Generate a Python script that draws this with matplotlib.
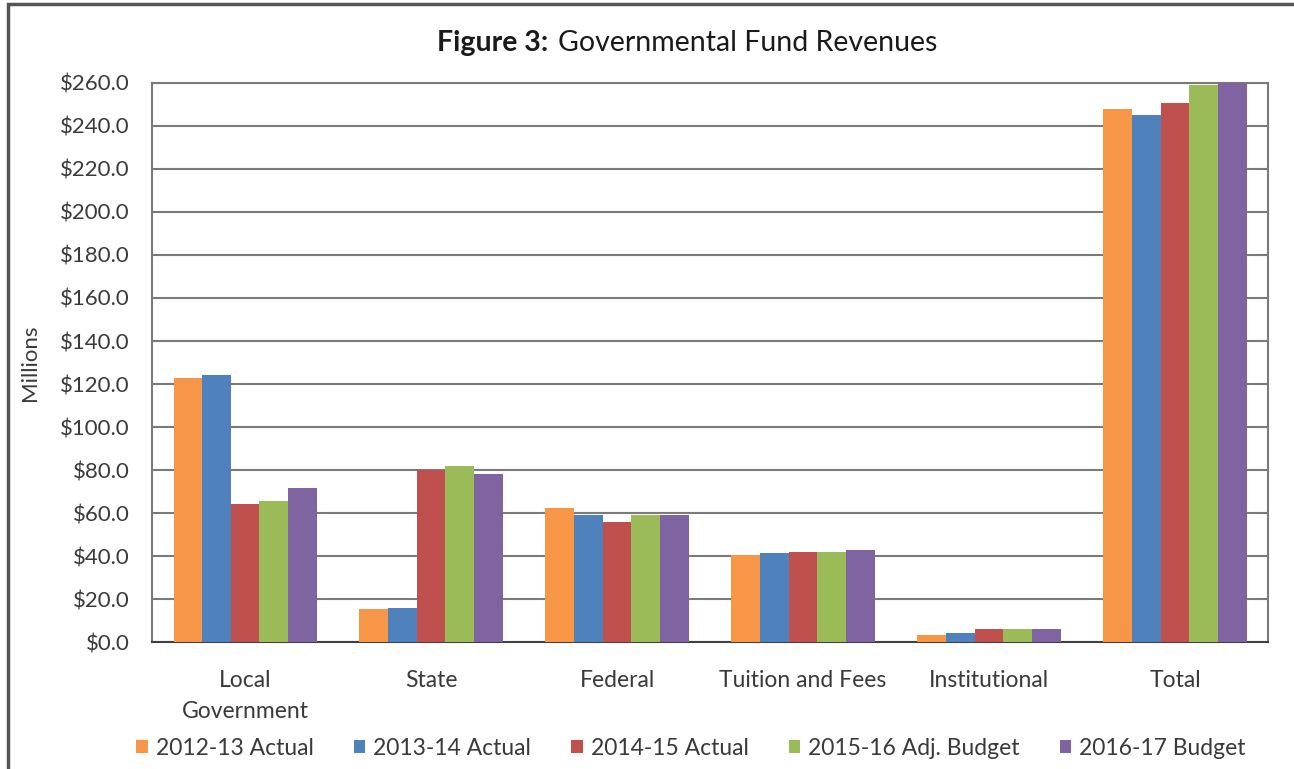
import matplotlib.pyplot as plt
import matplotlib.patches as patches
import numpy as np

plt.rcParams['font.family'] = ['Lato', 'DejaVu Sans']

# Revenue categories and fiscal-year series (millions of dollars)
categories = ['Local\nGovernment', 'State', 'Federal', 'Tuition and Fees', 'Institutional', 'Total']
series_names = ['2012-13 Actual', '2013-14 Actual', '2014-15 Actual', '2015-16 Adj. Budget', '2016-17 Budget']
actual_2012_13 = [122.8, 15.3, 62.3, 40.5, 3.3, 247.9]
actual_2013_14 = [124.2, 15.8, 59.0, 41.4, 4.2, 245.0]
actual_2014_15 = [64.2, 80.0, 55.8, 41.8, 6.0, 250.7]
adj_budget_2015_16 = [65.6, 81.9, 59.0, 41.8, 6.0, 259.0]
budget_2016_17 = [71.6, 78.0, 59.0, 43.0, 6.2, 260.0]
colors = ['#F79646', '#4F81BD', '#C0504D', '#9BBB59', '#8064A2']

values = [actual_2012_13, actual_2013_14, actual_2014_15, adj_budget_2015_16, budget_2016_17]

fig = plt.figure(figsize=(12.94, 7.69), dpi=100)
ax = fig.add_axes([0.1175, 0.1651, 0.8624, 0.7270])

x = np.arange(len(categories))
w = 1 / 6.5
for i, (name, vals, c) in enumerate(zip(series_names, values, colors)):
    ax.bar(x + (i - 2) * w, vals, width=w, color=c, label=name, zorder=3)

ax.set_xlim(-0.5, len(categories) - 0.5)
ax.set_ylim(0, 260)
ax.set_yticks(np.arange(0, 261, 20))
ax.set_yticklabels(['${:.1f}'.format(v) for v in np.arange(0, 261, 20)], fontsize=16, color='#3a3a3a')
ax.set_xticks(x)
ax.set_xticklabels(categories, fontsize=16.5, color='#3a3a3a', linespacing=1.6)
ax.tick_params(axis='both', length=0)
ax.tick_params(axis='x', pad=20)
ax.tick_params(axis='y', pad=16)
ax.grid(axis='y', color='#7a7a7a', linewidth=1.5, zorder=0)
for s in ax.spines.values():
    s.set_color('#7a7a7a')
    s.set_linewidth(1.5)
ax.spines['bottom'].set_color('#404040')

ax.set_ylabel('Millions', fontsize=16, color='#3a3a3a')
ax.yaxis.set_label_coords(-0.1, 0.5)

# Title: bold figure number followed by regular text
fig.text(0.4235, 0.944, 'Figure 3:', fontsize=20.5, fontweight='bold', ha='right', va='center', color='#1a1a1a')
fig.text(0.4315, 0.944, 'Governmental Fund Revenues', fontsize=20.5, ha='left', va='center', color='#1a1a1a')

fig.legend(loc='center', bbox_to_anchor=(0.534, 0.027), ncol=5, frameon=False, fontsize=16.5,
           handlelength=0.5, handleheight=0.5, handletextpad=0.35, columnspacing=1.75,
           labelcolor='#3a3a3a')

# Outer chart border
fig.patches.append(patches.Rectangle((8 / 1294, -0.1), 1.2, 1.1 - 4 / 769, transform=fig.transFigure,
                                     fill=False, edgecolor='#555555', linewidth=2.5, clip_on=False))

fig.savefig('out.png', dpi=100)
